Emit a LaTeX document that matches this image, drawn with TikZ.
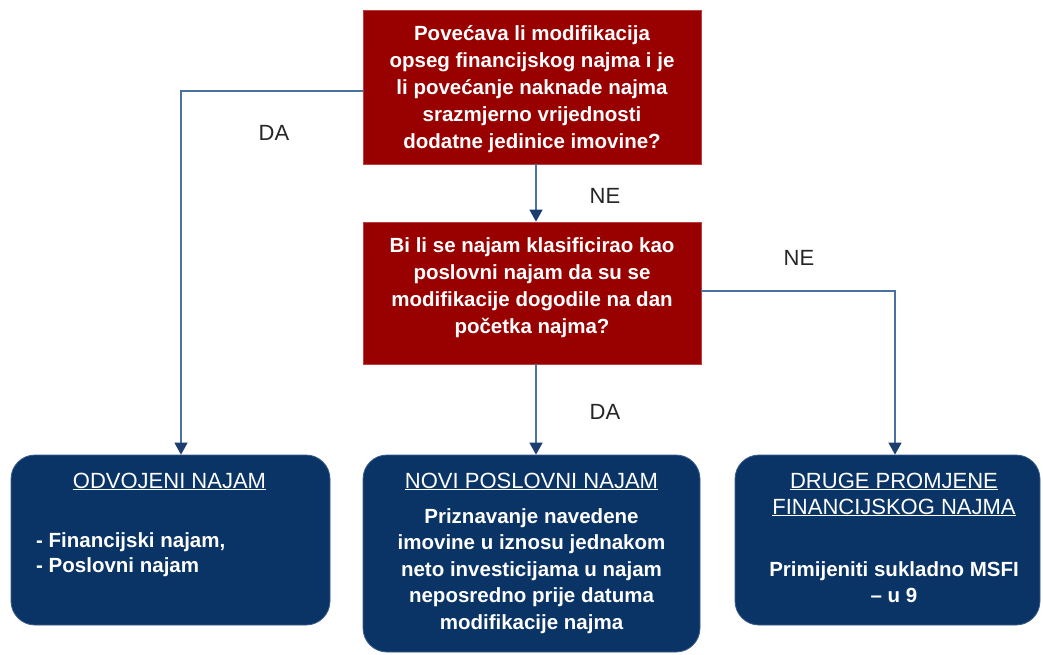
\documentclass[tikz,border=0pt]{standalone}
\usepackage{fontspec}
\setmainfont{Liberation Sans}
\usetikzlibrary{arrows.meta}
\definecolor{qred}{HTML}{990000}
\definecolor{qredline}{HTML}{B84040}
\definecolor{bnavy}{HTML}{0B3466}
\definecolor{bnavyline}{HTML}{3A5C8A}
\definecolor{conn}{HTML}{4A72A0}
\definecolor{tipc}{HTML}{1B3E6E}
\definecolor{lbl}{HTML}{262626}
\tikzset{
  qbox/.style={draw=qredline, line width=0.8pt, fill=qred, inner sep=0pt},
  rbox/.style={draw=bnavyline, line width=0.8pt, fill=bnavy, rounded corners=24pt, inner sep=0pt},
  qtext/.style={text=white, font=\fontsize{20.5}{27}\selectfont\bfseries, align=center, inner sep=0pt},
  btext/.style={text=white, font=\fontsize{20.5}{26.6}\selectfont\bfseries, inner sep=0pt},
  htext/.style={text=white, font=\fontsize{22}{27}\selectfont, align=center, inner sep=0pt},
  lab/.style={text=lbl, font=\fontsize{22}{26}\selectfont, inner sep=0pt},
  conline/.style={draw=conn, line width=1.5pt, -{Triangle[width=13pt,length=12pt,color=tipc]}}
}
\newcommand{\hul}[1]{\underline{\smash{#1}}}
\begin{document}
\begin{tikzpicture}[x=1pt,y=-1pt]
\useasboundingbox[fill=white] (0,0) rectangle (1043,654);
% decision boxes
\node[qbox, minimum width=338pt, minimum height=154pt] (q1) at (532,87) {};
\node[qtext] (q1t) at (532,89) {Povećava li modifikacija\\opseg financijskog najma i je\\li povećanje naknade najma\\srazmjerno vrijednosti\\dodatne jedinice imovine?};
\node[qbox, minimum width=338pt, minimum height=142pt] (q2) at (532,293) {};
\node[qtext] (q2t) at (532,288) {Bi li se najam klasificirao kao\\poslovni najam da su se\\modifikacije dogodile na dan\\početka najma?};
% result boxes
\node[rbox, minimum width=319pt, minimum height=170pt] (b1) at (170.5,540) {};
\node[rbox, minimum width=337pt, minimum height=197pt] (b2) at (531.5,553.5) {};
\node[rbox, minimum width=305pt, minimum height=170pt] (b3) at (887.5,540) {};
% result texts
\node[htext] (b1h) at (169.5,489) {\hul{ODVOJENI NAJAM}};
\node[btext, anchor=west] (b1a) at (36,542) {- Financijski najam,};
\node[btext, anchor=west] (b1b) at (36,567) {- Poslovni najam};
\node[htext] (b2h) at (531.5,489) {\hul{NOVI POSLOVNI NAJAM}};
\node[btext, align=center] (b2t) at (531.5,571) {Priznavanje navedene\\imovine u iznosu jednakom\\neto investicijama u najam\\neposredno prije datuma\\modifikacije najma};
\node[htext] (b3h1) at (894,489) {\hul{DRUGE PROMJENE}};
\node[htext] (b3h2) at (894,515) {\hul{FINANCIJSKOG NAJMA}};
\node[btext, align=center] (b3t) at (894,582) {Primijeniti sukladno MSFI\\– u 9};
% connectors
\draw[conline] ([xshift=4pt]q1.south) -- ([xshift=4pt]q2.north);
\draw[conline] ([yshift=-4pt]q1.west) -| ([xshift=10.5pt]b1.north);
\draw[conline] ([xshift=4pt]q2.south) -- ([xshift=4.5pt]b2.north);
\draw[conline] ([yshift=2pt]q2.east) -| ([xshift=7.5pt]b3.north);
% labels
\node[lab] (l1) at (274,133) {DA};
\node[lab] (l2) at (605,196) {NE};
\node[lab] (l3) at (799,258) {NE};
\node[lab] (l4) at (605,412) {DA};
\end{tikzpicture}
\end{document}
